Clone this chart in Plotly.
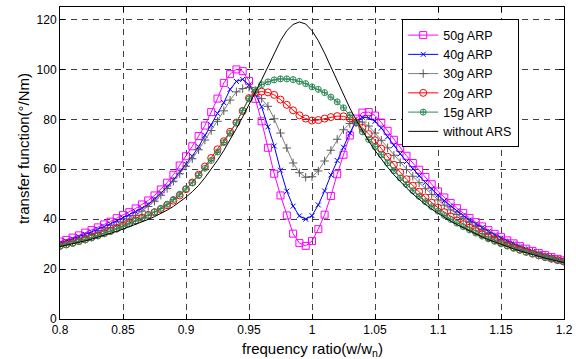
import plotly.graph_objects as go

freq = [0.800, 0.805, 0.810, 0.815, 0.820, 0.825, 0.830, 0.835, 0.840, 0.845,
        0.850, 0.855, 0.860, 0.865, 0.870, 0.875, 0.880, 0.885, 0.890, 0.895,
        0.900, 0.905, 0.910, 0.915, 0.920, 0.925, 0.930, 0.935, 0.940, 0.945,
        0.950, 0.955, 0.960, 0.965, 0.970, 0.975, 0.980, 0.985, 0.990, 0.995,
        1.000, 1.005, 1.010, 1.015, 1.020, 1.025, 1.030, 1.035, 1.040, 1.045,
        1.050, 1.055, 1.060, 1.065, 1.070, 1.075, 1.080, 1.085, 1.090, 1.095,
        1.100, 1.105, 1.110, 1.115, 1.120, 1.125, 1.130, 1.135, 1.140, 1.145,
        1.150, 1.155, 1.160, 1.165, 1.170, 1.175, 1.180, 1.185, 1.190, 1.195,
        1.200]

arp_50g = [31.0, 31.7, 32.6, 33.5, 34.6, 35.6, 36.7, 37.9, 39.0, 40.4,
           41.6, 42.8, 44.3, 45.9, 47.5, 49.5, 51.9, 54.6, 57.8, 61.5,
           65.2, 69.2, 73.3, 77.5, 82.9, 88.3, 94.6, 98.1, 100.0, 99.3,
           95.4, 88.2, 79.2, 68.6, 58.2, 49.5, 41.5, 34.2, 30.4, 29.3,
           31.2, 36.0, 41.8, 49.3, 58.0, 65.8, 73.5, 80.3, 82.7, 82.9,
           81.5, 78.7, 75.4, 71.8, 68.5, 65.4, 62.5, 59.8, 56.9, 54.0,
           51.1, 48.7, 46.5, 44.4, 42.4, 40.5, 38.8, 37.1, 35.6, 34.1,
           32.8, 31.5, 30.3, 29.2, 28.2, 27.3, 26.4, 25.6, 24.8, 24.1,
           23.5]

arp_40g = [30.4, 31.2, 32.1, 33.0, 33.9, 34.9, 35.9, 37.0, 38.1, 39.3,
           40.5, 41.7, 43.0, 44.4, 45.9, 48.0, 50.4, 53.0, 55.7, 58.9,
           62.0, 65.2, 69.0, 73.6, 77.7, 82.4, 86.7, 92.0, 95.2, 96.0,
           93.8, 90.0, 85.0, 77.0, 69.3, 59.6, 51.2, 45.2, 41.3, 40.0,
           41.4, 45.7, 51.3, 57.7, 63.5, 68.8, 74.5, 79.3, 80.8, 80.6,
           79.2, 76.5, 73.0, 69.6, 66.2, 63.1, 60.2, 57.4, 54.7, 52.1,
           49.6, 47.4, 45.3, 43.3, 41.5, 39.7, 38.1, 36.6, 35.1, 33.7,
           32.4, 31.2, 30.1, 29.0, 28.0, 27.1, 26.2, 25.4, 24.7, 24.0,
           23.4]

arp_30g = [29.8, 30.4, 31.1, 31.9, 32.7, 33.6, 34.5, 35.5, 36.6, 37.7,
           38.9, 40.1, 41.5, 43.2, 45.1, 47.2, 49.6, 52.3, 55.2, 58.2,
           61.2, 64.2, 67.8, 71.7, 75.5, 79.2, 83.4, 87.7, 91.0, 92.3,
           92.8, 91.0, 88.3, 85.2, 80.2, 74.5, 68.5, 62.5, 58.6, 56.8,
           57.0, 59.3, 63.3, 67.6, 72.0, 75.8, 78.3, 79.4, 78.9, 77.3,
           74.5, 71.6, 68.6, 65.6, 62.7, 59.9, 57.2, 54.6, 52.2, 49.9,
           47.7, 45.6, 43.7, 41.9, 40.2, 38.6, 37.1, 35.7, 34.3, 33.0,
           31.8, 30.6, 29.6, 28.6, 27.7, 26.8, 26.0, 25.2, 24.5, 23.8,
           23.2]

arp_20g = [29.3, 29.9, 30.5, 31.2, 31.9, 32.7, 33.5, 34.4, 35.3, 36.3,
           37.3, 38.4, 39.5, 40.6, 41.7, 42.8, 44.0, 45.6, 47.4, 49.5,
           52.0, 54.7, 57.8, 61.1, 64.5, 68.0, 71.2, 75.0, 78.7, 83.3,
           88.5, 90.8, 91.1, 90.8, 89.8, 87.9, 85.8, 83.6, 81.6, 80.3,
           79.5, 79.7, 80.3, 80.9, 81.3, 81.2, 80.3, 78.7, 76.6, 74.1,
           71.6, 68.3, 65.0, 61.8, 58.8, 56.0, 53.4, 51.0, 48.7, 46.6,
           44.6, 42.8, 41.1, 39.5, 38.0, 36.6, 35.2, 33.9, 32.7, 31.6,
           30.6, 29.6, 28.7, 27.8, 27.0, 26.2, 25.5, 24.8, 24.2, 23.6,
           23.0]

arp_15g = [29.1, 29.7, 30.3, 31.0, 31.7, 32.5, 33.3, 34.1, 35.0, 36.0,
           37.0, 38.1, 39.2, 40.3, 41.5, 42.9, 44.3, 46.0, 47.9, 50.0,
           52.1, 54.6, 57.5, 60.4, 63.5, 66.9, 70.7, 74.4, 78.6, 83.6,
           88.2, 91.8, 93.9, 95.0, 95.8, 96.2, 96.2, 95.9, 95.2, 94.3,
           93.0, 92.0, 90.7, 88.9, 87.0, 84.6, 81.7, 78.5, 75.0, 71.9,
           69.0, 65.8, 62.5, 59.4, 56.5, 53.9, 51.4, 49.1, 47.0, 45.0,
           43.2, 41.5, 39.9, 38.4, 37.0, 35.7, 34.4, 33.2, 32.1, 31.1,
           30.1, 29.2, 28.3, 27.5, 26.7, 26.0, 25.3, 24.6, 24.0, 23.4,
           22.8]

without_ars = [29.0, 29.5, 30.1, 30.7, 31.3, 32.0, 32.7, 33.4, 34.2, 35.1,
               36.0, 36.9, 37.9, 38.9, 39.9, 41.0, 42.2, 43.6, 45.1, 46.8,
               48.8, 51.0, 53.5, 56.6, 60.0, 63.6, 67.5, 71.8, 76.3, 81.0,
               85.8, 90.6, 95.8, 101.0, 106.5, 111.5, 115.5, 118.0, 119.0, 118.2,
               115.5, 111.5, 106.5, 101.0, 95.3, 89.7, 84.5, 79.8, 75.4, 71.3,
               67.5, 64.0, 60.8, 57.8, 55.0, 52.5, 50.1, 47.9, 45.9, 44.0,
               42.3, 40.7, 39.2, 37.8, 36.5, 35.2, 34.0, 32.9, 31.8, 30.8,
               29.8, 28.9, 28.1, 27.3, 26.5, 25.8, 25.1, 24.4, 23.8, 23.2,
               22.6]

x_ticks = [0.8, 0.85, 0.9, 0.95, 1.0, 1.05, 1.1, 1.15, 1.2]
x_tick_labels = ["0.8", "0.85", "0.9", "0.95", "1", "1.05", "1.1", "1.15", "1.2"]
y_ticks = [0, 20, 40, 60, 80, 100, 120]

series = [
    ("50g ARP", arp_50g, "#FF00FF", "square-open", 7, "#FF00FF"),
    ("40g ARP", arp_40g, "#0000FF", "x-thin-open", 5, "#0000FF"),
    ("30g ARP", arp_30g, "#808080", "cross-thin-open", 6, "#5a5a5a"),
    ("20g ARP", arp_20g, "#FF0000", "circle-open", 7, "#FF0000"),
    ("15g ARP", arp_15g, "#2E8B57", "circle-cross-open", 6, "#2E8B57"),
]

FONT = "Liberation Sans, Arial, sans-serif"

fig = go.Figure()
for name, vals, color, sym, size, mcol in series:
    fig.add_trace(go.Scatter(
        x=freq, y=vals, name=name, mode="lines+markers",
        line=dict(color=color, width=1),
        marker=dict(symbol=sym, size=size, color=mcol,
                    line=dict(color=mcol, width=1)),
    ))
fig.add_trace(go.Scatter(
    x=freq, y=without_ars, name="without ARS", mode="lines",
    line=dict(color="black", width=1),
))

axis_common = dict(
    showline=True, linecolor="black", linewidth=1, mirror="ticks",
    ticks="inside", ticklen=5, tickcolor="black",
    showgrid=True, gridcolor="rgba(0,0,0,0.75)", gridwidth=1,
    griddash="6px,5px", zeroline=False, automargin=False,
    tickfont=dict(family=FONT, size=12, color="black"),
)

fig.update_xaxes(range=[0.8, 1.2], tickvals=x_ticks, ticktext=x_tick_labels,
                 **axis_common)
fig.update_yaxes(range=[0, 125], tickvals=y_ticks, **axis_common)

fig.update_layout(
    width=576, height=359,
    margin=dict(l=60, r=12, t=7, b=40, autoexpand=False),
    paper_bgcolor="white", plot_bgcolor="white",
    font=dict(family=FONT, size=12, color="black"),
    showlegend=True,
    legend=dict(
        x=0.679, y=0.96, xanchor="left", yanchor="top",
        bgcolor="white", bordercolor="black", borderwidth=1,
        font=dict(family=FONT, size=12.5, color="black"),
        tracegroupgap=0, itemwidth=30,
    ),
    annotations=[
        dict(text="frequency ratio(w/w<sub>n</sub>)", xref="paper", yref="paper",
             x=0.5, y=0, xanchor="center", yanchor="top", yshift=-19,
             showarrow=False, font=dict(family=FONT, size=15, color="black")),
        dict(text="transfer function(°/Nm)", xref="paper", yref="paper",
             x=0, y=0.545, xanchor="center", yanchor="middle", xshift=-36,
             textangle=-90, showarrow=False,
             font=dict(family=FONT, size=15, color="black")),
    ],
)

fig.write_html(
    "out.html",
    config={"displayModeBar": False},
    post_script="document.body.style.margin='0';document.body.style.padding='0';"
                "document.body.style.overflow='hidden';",
)
